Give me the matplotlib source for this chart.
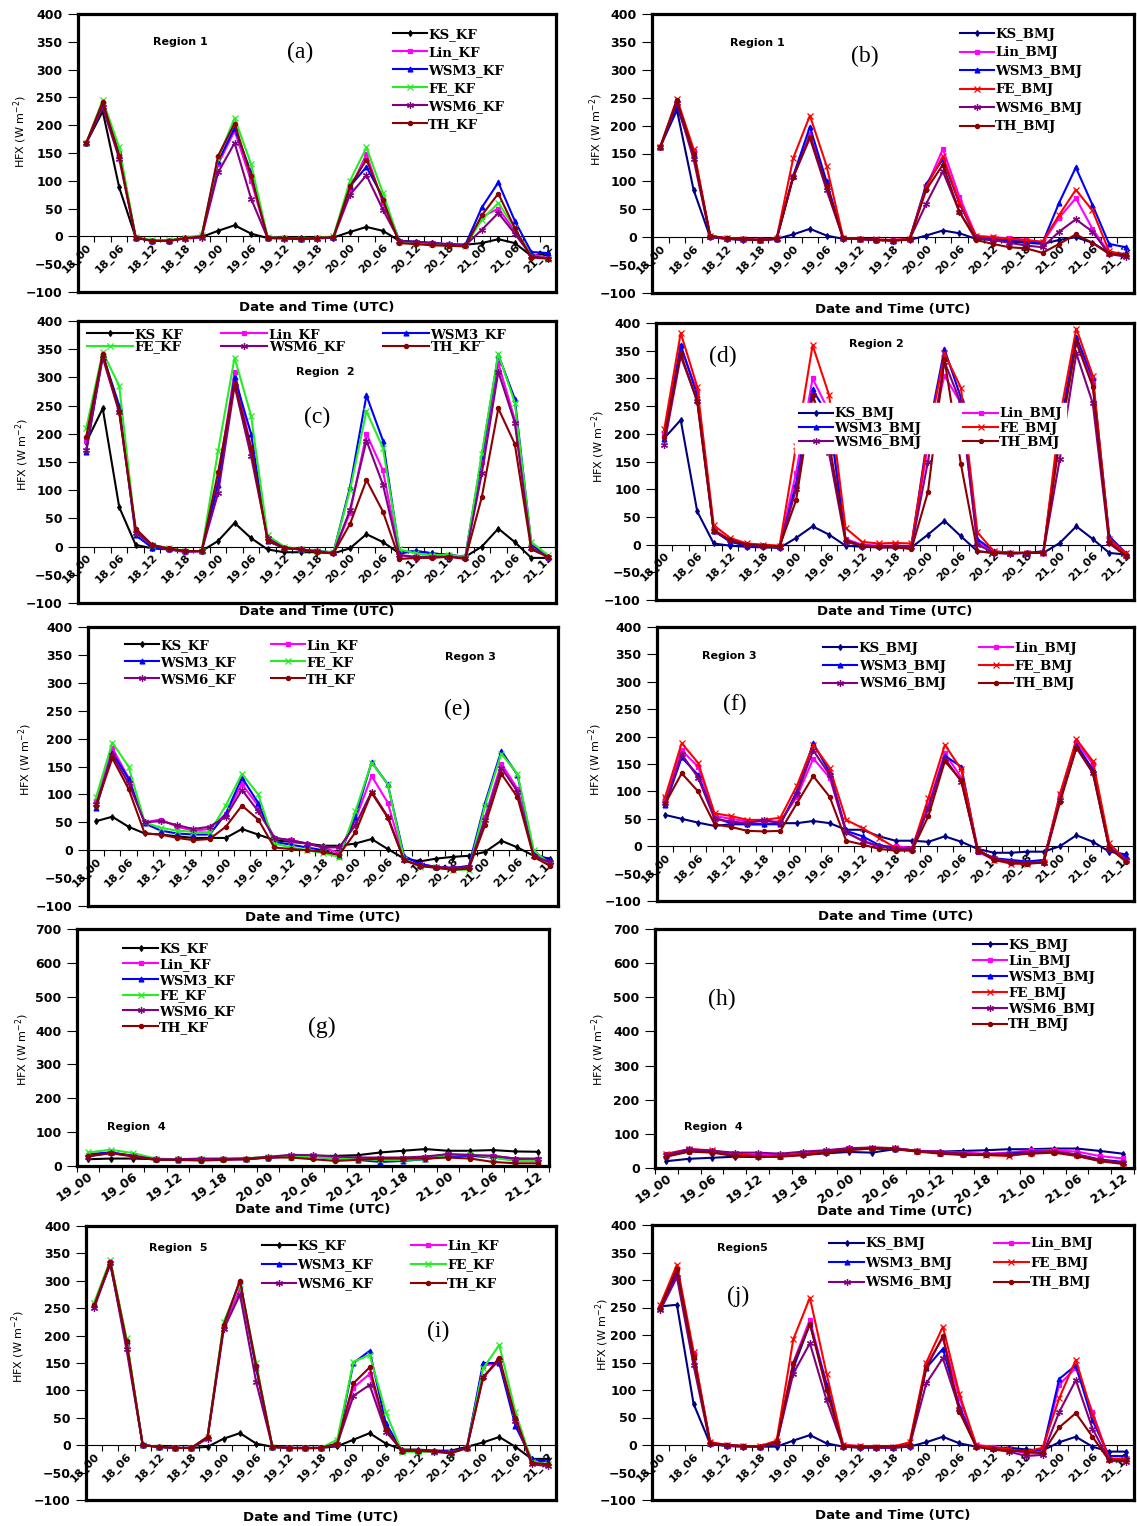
import matplotlib
matplotlib.use('Agg')
import matplotlib.pyplot as plt
import numpy as np

# ---------------- data ----------------
schemes = ['KS', 'Lin', 'WSM3', 'FE', 'WSM6', 'TH']
labels_full = ['18_00', '18_06', '18_12', '18_18', '19_00', '19_06', '19_12', '19_18',
               '20_00', '20_06', '20_12', '20_18', '21_00', '21_06', '21_12']
labels_r4 = ['19_00', '19_06', '19_12', '19_18', '20_00', '20_06', '20_12', '20_18',
             '21_00', '21_06', '21_12']

a_KS = [168,225,88,-2,-8,-8,-3,-1,10,20,5,-3,-3,-3,-3,-2,8,17,10,-8,-10,-12,-15,-15,-12,-5,-12,-35,-30]
a_Lin = [168,238,150,-2,-8,-8,-3,0,130,190,100,-2,-3,-4,-3,-1,85,148,60,-10,-12,-14,-15,-17,35,50,10,-32,-38]
a_WSM3 = [168,235,150,-2,-8,-8,-3,0,135,195,115,-2,-3,-4,-3,-1,90,125,70,-8,-10,-12,-14,-15,52,97,28,-28,-30]
a_FE = [168,245,160,-1,-7,-7,-2,2,140,213,130,-1,-3,-4,-3,0,100,160,78,-10,-12,-14,-15,-17,30,60,15,-35,-40]
a_WSM6 = [168,232,140,-3,-8,-8,-4,-2,115,168,68,-3,-4,-5,-4,-2,75,110,48,-8,-10,-12,-14,-16,12,42,5,-35,-40]
a_TH = [168,242,145,-2,-8,-8,-3,0,145,203,108,-2,-3,-4,-3,-1,90,138,65,-12,-14,-16,-17,-18,38,77,15,-38,-40]

b_KS = [162,228,85,0,-3,-5,-5,-3,5,15,3,-3,-3,-5,-5,-5,3,12,7,-3,-5,-8,-10,-12,-5,0,-10,-28,-30]
b_Lin = [162,242,155,2,-2,-3,-5,-2,110,185,95,-2,-3,-5,-5,-3,90,158,72,2,0,-2,-5,-10,35,70,15,-28,-32]
b_WSM3 = [162,235,150,2,-2,-4,-5,-3,110,198,100,-2,-3,-5,-6,-4,95,140,60,0,-3,-5,-8,-10,62,125,58,-12,-18]
b_FE = [162,248,158,3,-2,-3,-5,-2,142,218,128,-1,-3,-4,-5,-3,90,145,62,2,0,-3,-5,-8,40,85,48,-25,-32]
b_WSM6 = [162,240,140,1,-3,-4,-5,-3,108,178,85,-2,-3,-5,-6,-4,60,118,45,-2,-5,-10,-15,-18,10,32,10,-30,-35]
b_TH = [162,245,150,2,-2,-4,-5,-3,108,180,92,-2,-3,-5,-6,-4,85,130,45,-5,-12,-18,-20,-28,-12,5,-10,-30,-32]

c_KS = [185,245,70,3,-3,-5,-8,-8,10,42,15,-5,-10,-10,-10,-12,-3,22,8,-12,-8,-12,-15,-18,0,32,8,-20,-20]
c_Lin = [188,340,240,30,3,-5,-10,-8,120,310,175,15,-2,-5,-8,-12,60,200,135,-15,-20,-18,-18,-20,150,325,225,3,-20]
c_WSM3 = [168,340,250,20,-2,-5,-8,-8,110,300,200,10,-3,-5,-8,-10,105,268,188,-10,-8,-12,-15,-18,160,340,262,5,-18]
c_FE = [210,345,285,25,3,-3,-8,-8,170,335,232,20,0,-5,-8,-10,100,240,175,-5,-12,-15,-15,-18,165,342,255,8,-15]
c_WSM6 = [172,335,238,25,2,-5,-8,-8,95,285,160,15,-2,-5,-8,-12,65,188,110,-15,-18,-18,-18,-20,130,310,220,-2,-18]
c_TH = [195,342,240,32,3,-3,-8,-8,132,290,175,10,-2,-5,-10,-12,40,118,62,-22,-20,-20,-18,-22,88,245,182,-5,-18]

d_KS = [192,225,60,2,-2,-4,-5,-6,12,33,18,-2,-4,-5,-5,-5,18,43,15,-12,-15,-15,-15,-15,3,33,10,-15,-18]
d_Lin = [200,358,275,28,8,0,-2,-3,130,300,240,10,0,-2,-2,-3,180,305,255,5,-15,-15,-15,-15,200,370,290,10,-18]
d_WSM3 = [190,360,270,25,5,-2,-3,-5,110,280,230,8,-2,-3,-3,-3,200,353,265,10,-12,-15,-15,-12,210,375,300,15,-15]
d_FE = [208,382,285,35,12,2,0,-2,178,360,270,30,5,2,3,2,190,345,283,22,-12,-15,-15,-15,230,390,305,10,-15]
d_WSM6 = [180,340,260,25,8,0,-3,-5,100,270,165,5,-2,-3,-3,-5,150,330,255,0,-15,-17,-15,-15,155,345,255,2,-20]
d_TH = [195,345,258,25,8,0,-2,-3,80,270,185,8,-3,-5,-5,-8,95,335,145,-12,-15,-15,-15,-15,190,365,285,5,-20]

e_KS = [52,60,42,30,28,25,22,22,22,38,28,18,15,12,8,8,12,20,2,-15,-20,-15,-12,-10,-3,17,5,-10,-15]
e_Lin = [88,183,130,50,55,42,35,38,65,118,80,22,18,12,5,-5,55,133,85,-18,-25,-30,-32,-30,60,155,110,-5,-25]
e_WSM3 = [75,175,128,48,35,30,28,28,65,130,85,15,10,5,0,-10,60,158,118,-10,-25,-30,-32,-28,85,178,135,-5,-18]
e_FE = [95,193,150,50,40,35,33,32,80,137,100,12,5,0,-5,-12,70,157,118,-15,-30,-30,-35,-35,80,173,137,0,-25]
e_WSM6 = [82,170,120,50,52,45,38,42,60,108,70,22,18,12,5,5,45,105,60,-18,-28,-30,-32,-30,55,148,105,-10,-22]
e_TH = [80,165,110,30,28,22,18,20,42,80,55,5,2,0,-3,-8,32,103,58,-18,-28,-32,-35,-33,45,137,95,-12,-28]

f_KS = [57,50,43,37,40,40,40,42,42,46,42,30,30,18,10,10,8,18,8,-5,-12,-12,-10,-10,0,20,8,-10,-15]
f_Lin = [88,175,145,55,50,45,45,45,90,160,125,25,10,-2,0,-3,75,170,125,-10,-25,-30,-30,-28,95,190,150,0,-25]
f_WSM3 = [75,162,130,52,42,40,40,40,100,188,135,28,18,2,-3,-5,70,165,145,-8,-22,-25,-28,-25,85,185,140,-5,-18]
f_FE = [90,188,152,60,55,48,48,52,110,185,143,48,33,15,-3,-5,88,185,140,-5,-25,-32,-32,-28,95,195,155,5,-25]
f_WSM6 = [78,168,125,50,45,42,48,42,95,175,130,25,10,0,-5,-5,70,160,118,-8,-22,-28,-30,-30,85,180,133,-5,-25]
f_TH = [78,133,100,40,35,28,27,28,78,128,90,10,3,-5,-8,-8,55,155,120,-8,-25,-30,-32,-30,80,180,135,-3,-28]

g_KS = [20,22,22,20,20,20,20,22,25,28,30,30,32,40,45,50,45,45,47,43,42]
g_Lin = [32,40,30,20,20,20,20,20,25,30,30,25,22,22,22,25,35,32,30,22,20]
g_WSM3 = [35,40,30,20,18,18,20,20,25,28,28,22,18,12,15,20,30,30,25,18,15]
g_FE = [40,48,38,22,20,20,20,22,28,28,28,22,20,18,18,20,32,35,25,15,15]
g_WSM6 = [28,38,30,20,20,22,22,22,27,33,32,28,25,25,25,28,35,32,30,22,22]
g_TH = [30,38,28,18,18,16,18,20,25,25,20,15,18,22,22,22,25,22,12,8,8]

h_KS = [20,27,30,33,32,35,38,43,47,45,55,50,48,50,52,55,55,57,57,50,42]
h_Lin = [40,55,50,42,38,38,42,50,58,58,58,50,48,45,42,45,52,52,48,35,28]
h_WSM3 = [35,50,48,38,35,35,40,48,55,58,55,50,45,40,40,42,48,48,40,25,18]
h_FE = [42,55,52,40,35,35,40,48,55,60,58,50,45,40,38,35,45,50,38,22,15]
h_WSM6 = [38,55,50,45,45,42,48,52,58,60,58,50,48,42,40,40,45,48,38,22,15]
h_TH = [33,48,45,35,32,33,38,45,52,57,55,48,42,38,38,38,42,45,35,20,12]

i_KS = [255,330,185,0,-3,-5,-5,-3,12,22,3,-3,-5,-5,-5,-2,10,22,3,-8,-8,-10,-10,-3,5,15,-3,-25,-25]
i_Lin = [255,335,185,0,-3,-5,-5,15,215,285,145,-3,-5,-5,-5,2,105,130,30,-10,-10,-10,-12,-5,145,150,50,-30,-35]
i_WSM3 = [255,335,190,0,-3,-5,-5,15,220,300,140,-3,-5,-6,-5,3,150,172,40,-10,-10,-10,-12,-5,150,150,35,-25,-30]
i_FE = [260,338,195,0,-3,-5,-5,15,225,295,150,-3,-5,-5,-5,10,152,165,60,-12,-12,-12,-14,-6,140,183,60,-30,-35]
i_WSM6 = [250,332,175,0,-3,-5,-5,12,212,275,115,-3,-5,-5,-5,2,90,110,25,-10,-10,-12,-15,-5,125,155,45,-35,-38]
i_TH = [255,335,190,0,-3,-5,-5,15,220,300,145,-3,-5,-5,-5,3,113,142,30,-10,-10,-10,-14,-5,122,160,50,-32,-35]

j_KS = [252,255,75,2,-2,-3,-3,-3,8,18,3,-3,-5,-5,-5,-3,5,15,3,-3,-5,-5,-8,-10,5,15,-3,-12,-12]
j_Lin = [250,318,165,5,0,-2,-3,5,150,228,110,0,-2,-3,-3,0,145,195,85,0,-3,-8,-15,-15,110,140,60,-25,-25]
j_WSM3 = [250,310,160,3,0,-2,-3,3,140,220,110,-2,-3,-4,-4,-2,140,175,70,-2,-5,-8,-10,-10,120,145,45,-20,-20]
j_FE = [255,328,170,5,0,-2,-2,8,192,268,130,0,-2,-3,-3,5,150,215,92,0,-5,-8,-12,-5,85,155,55,-25,-25]
j_WSM6 = [245,305,145,2,-1,-3,-3,3,130,185,82,-3,-4,-5,-5,-2,112,158,65,-3,-8,-12,-20,-18,60,118,30,-28,-30]
j_TH = [250,320,160,3,0,-2,-3,5,148,220,100,-2,-3,-3,-3,0,140,198,60,-3,-8,-10,-12,-15,32,58,15,-28,-28]

# ---------------- style ----------------
W, H = 1137, 1526
fig = plt.figure(figsize=(W / 100, H / 100), dpi=100)

SANS = ['DejaVu Sans']
SERIF = ['DejaVu Serif']
LETTER = ['Liberation Serif', 'DejaVu Serif']

col_KF = ['#000000', '#FF00FF', '#0000FF', '#22EE22', '#800080', '#8B0000']
col_BMJ = ['#000080', '#FF00FF', '#0000FF', '#FF0000', '#800080', '#8B0000']
markers = ['d', 's', '^', 'x', (6, 2, 0), 'o']
msizes = [3, 3.5, 3.5, 4, 5, 3]


def fx(px):
    return px / W


def fy(py):
    return 1 - py / H


def style_xlabels(labels, size, rot):
    for t in labels:
        t.set_rotation(rot)
        t.set_ha('right')
        t.set_va('top')
        t.set_rotation_mode('anchor')
        t.set_fontsize(size)
        t.set_fontweight('bold')
        t.set_family(SANS)


def panel(rect, series, suffix, colors, xlabels, kind, leg_anchor, ncol, lsp,
          csp, hlen, region, region_xy, letter, letter_xy, ylab_xy, xlab_dy):
    L, T, R, B = rect
    ax = fig.add_axes([fx(L), fy(B), fx(R - L), (B - T) / H])
    n = len(series[0])
    x = np.arange(n)
    handles = []
    for s, name, c, m, ms in zip(series, schemes, colors, markers, msizes):
        h, = ax.plot(x, s, color=c, lw=1.5, marker=m, ms=ms, mew=0.9,
                     label=name + suffix)
        handles.append(h)
    ax.set_xlim(-0.5, n - 0.5)
    for sp in ax.spines.values():
        sp.set_linewidth(2.3)
        sp.set_color('black')
    if kind == 'neg':
        ax.set_ylim(-100, 400)
        ax.set_yticks(np.arange(-100, 401, 50))
        ax.set_xticks([])
        xa = ax.secondary_xaxis(0.2)
        xa.spines['bottom'].set_linewidth(0.8)
        size, rot, pad = 8, 45, 4
    else:
        ax.set_ylim(0, 700)
        ax.set_yticks(np.arange(0, 701, 100))
        xa = ax
        size, rot, pad = 9, 35, 3
    xa.set_xticks(np.arange(0, n, 2))
    xa.set_xticklabels(xlabels)
    xa.set_xticks(np.arange(-0.5, n, 1), minor=True)
    xa.tick_params(axis='x', which='major', length=0, pad=pad)
    xa.tick_params(axis='x', which='minor', direction='out', length=4.5,
                   width=0.8)
    style_xlabels(xa.get_xticklabels(), size, rot)

    ax.tick_params(axis='y', direction='out', length=7, width=0.8, pad=4)
    for t in ax.get_yticklabels():
        t.set_fontsize(9)
        t.set_fontweight('bold')
        t.set_family(SANS)

    # legend (Excel row-major order -> matplotlib column-major)
    nrow = int(np.ceil(len(handles) / ncol))
    order = [r * ncol + cidx for cidx in range(ncol) for r in range(nrow)
             if r * ncol + cidx < len(handles)]
    hs = [handles[i] for i in order]
    leg = ax.legend(hs, [h.get_label() for h in hs], loc='upper left',
                    bbox_to_anchor=leg_anchor, ncol=ncol,
                    prop={'family': SERIF, 'weight': 'bold', 'size': 9.5},
                    handlelength=hlen, handletextpad=0.1, labelspacing=lsp,
                    columnspacing=csp, borderaxespad=0, borderpad=0.3,
                    frameon=(letter == '(d)'), facecolor='white',
                    edgecolor='white', framealpha=1, fancybox=False)
    leg.set_zorder(5)

    fig.text(fx(region_xy[0]), fy(region_xy[1]), region, ha='center',
             va='center', fontsize=8, fontweight='bold', family=SANS)
    fig.text(fx(letter_xy[0]), fy(letter_xy[1]), letter, ha='center',
             va='center', fontsize=17, family=LETTER)
    fig.text(fx(ylab_xy[0]), fy(ylab_xy[1]), r'HFX (W m$^{-2}$)', ha='center',
             va='center', rotation=90, fontsize=8, family=SANS)
    fig.text(fx((L + R) / 2), fy(B + xlab_dy), 'Date and Time (UTC)',
             ha='center', va='center', fontsize=9.5, fontweight='bold',
             family=SANS)
    return ax


panel((78, 14, 556, 292), [a_KS, a_Lin, a_WSM3, a_FE, a_WSM6, a_TH], '_KF',
      col_KF, labels_full, 'neg', (0.65, 0.965), 1, 0.38, 1.2, 2.6,
      'Region 1', (180, 42), '(a)', (300, 52), (20, 132), 15)
panel((652, 14, 1134, 293), [b_KS, b_Lin, b_WSM3, b_FE, b_WSM6, b_TH], '_BMJ',
      col_BMJ, labels_full, 'neg', (0.63, 0.965), 1, 0.42, 1.2, 2.6,
      'Region 1', (757, 43), '(b)', (865, 56), (596, 130), 16)
panel((78, 321, 556, 603), [c_KS, c_Lin, c_WSM3, c_FE, c_WSM6, c_TH], '_KF',
      col_KF, labels_full, 'neg', (0.01, 0.99), 3, -0.05, 2.9, 3.5,
      'Region  2', (325, 372), '(c)', (317, 417), (22, 455), 9)
panel((656, 323, 1134, 600), [d_KS, d_Lin, d_WSM3, d_FE, d_WSM6, d_TH], '_BMJ',
      col_BMJ, labels_full, 'neg', (0.29, 0.71), 2, 0.1, 3.2, 2.6,
      'Region 2', (876, 344), '(d)', (723, 356), (598, 447), 12)
panel((88, 627, 558, 906), [e_KS, e_Lin, e_WSM3, e_FE, e_WSM6, e_TH], '_KF',
      col_KF, labels_full, 'neg', (0.07, 0.972), 2, 0.3, 2.6, 2.6,
      'Regon 3', (470, 657), '(e)', (457, 709), (25, 760), 12)
panel((657, 627, 1134, 901), [f_KS, f_Lin, f_WSM3, f_FE, f_WSM6, f_TH], '_BMJ',
      col_BMJ, labels_full, 'neg', (0.34, 0.96), 2, 0.35, 2.5, 2.6,
      'Region 3', (729, 656), '(f)', (735, 704), (595, 760), 15)
panel((77, 929, 549, 1166), [g_KS, g_Lin, g_WSM3, g_FE, g_WSM6, g_TH], '_KF',
      col_KF, labels_r4, 'pos', (0.09, 0.96), 1, 0.2, 1.2, 2.6,
      'Region  4', (136, 1127), '(g)', (322, 1027), (22, 1050), 43)
panel((655, 929, 1134, 1168), [h_KS, h_Lin, h_WSM3, h_FE, h_WSM6, h_TH], '_BMJ',
      col_BMJ, labels_r4, 'pos', (0.655, 0.975), 1, 0.22, 1.2, 2.6,
      'Region  4', (713, 1127), '(h)', (722, 999), (598, 1050), 44)
panel((86, 1226, 556, 1500), [i_KS, i_Lin, i_WSM3, i_FE, i_WSM6, i_TH], '_KF',
      col_KF, labels_full, 'neg', (0.365, 0.965), 2, 0.45, 2.9, 2.6,
      'Region  5', (178, 1248), '(i)', (438, 1331), (18, 1347), 17)
panel((652, 1225, 1134, 1500), [j_KS, j_Lin, j_WSM3, j_FE, j_WSM6, j_TH], '_BMJ',
      col_BMJ, labels_full, 'neg', (0.36, 0.97), 2, 0.5, 3.2, 2.6,
      'Region5', (742, 1248), '(j)', (738, 1296), (602, 1335), 16)

fig.savefig('out.png', dpi=100)
